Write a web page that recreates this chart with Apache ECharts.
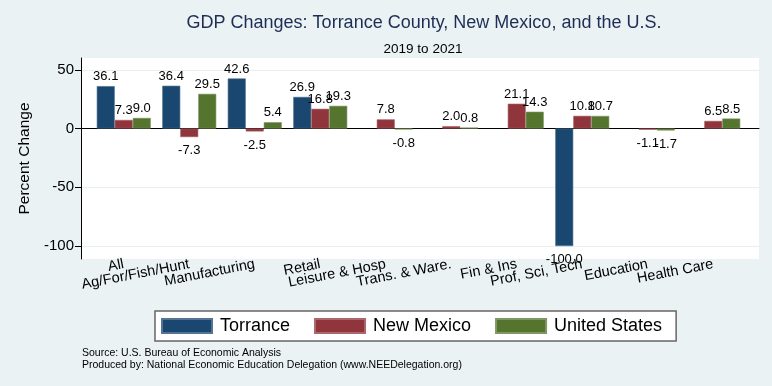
<!DOCTYPE html>
<html>
<head>
<meta charset="utf-8">
<script src="https://cdn.jsdelivr.net/npm/echarts@6/dist/echarts.min.js"></script>
<style>
html,body{margin:0;padding:0;background:#eaf2f3;}
#chart{width:772px;height:386px;}
</style>
</head>
<body>
<div id="chart"></div>
<script>
var categories = ["All", "Ag/For/Fish/Hunt", "Manufacturing", "Retail", "Leisure & Hosp", "Trans. & Ware.", "Fin & Ins", "Prof, Sci, Tech", "Education", "Health Care"];
var torrance = [36.1, 36.4, 42.6, 26.9, null, null, null, -100.0, null, null];
var newMexico = [7.3, -7.3, -2.5, 16.8, 7.8, 2.0, 21.1, 10.8, -1.1, 6.5];
var unitedStates = [9.0, 29.5, 5.4, 19.3, -0.8, 0.8, 14.3, 10.7, -1.7, 8.5];
var yTicks = [-100, -50, 0, 50];
var seriesNames = ["Torrance", "New Mexico", "United States"];
var colors = ["#1a476f", "#90353b", "#55752f"];

var FONT = "Liberation Sans, Arial, Helvetica, sans-serif";
var Y_MIN = -111, Y_MAX = 60;

function toItems(arr) {
  return arr.map(function (v) {
    if (v === null) return '-';
    return { value: v, label: { position: v < 0 ? 'bottom' : 'top', distance: v < 0 ? 7 : 3 } };
  });
}

var chart = echarts.init(document.getElementById('chart'));
var seriesData = [torrance, newMexico, unitedStates];
var series = seriesData.map(function (arr, i) {
  return {
    name: seriesNames[i],
    type: 'bar',
    xAxisIndex: 1,
    yAxisIndex: 1,
    data: toItems(arr),
    barWidth: 18,
    barGap: '0%',
    itemStyle: { color: colors[i], borderColor: echarts.color.lift(colors[i], 0.25), borderWidth: 0.6 },
    label: {
      show: true,
      color: '#000',
      fontFamily: FONT,
      fontSize: 13,
      formatter: function (p) { return Number(p.value).toFixed(1); }
    }
  };
});

chart.setOption({
  animation: false,
  backgroundColor: '#eaf2f3',
  title: [{
    text: 'GDP Changes: Torrance County, New Mexico, and the U.S.',
    left: 419, top: 9, textAlign: 'center',
    textStyle: { fontFamily: FONT, fontSize: 18, fontWeight: 'normal', color: '#1e2d55' }
  }, {
    text: '2019 to 2021',
    left: 418, top: 37, textAlign: 'center',
    textStyle: { fontFamily: FONT, fontSize: 13.5, fontWeight: 'normal', color: '#000' }
  }],
  legend: {
    data: seriesNames,
    left: 155, top: 311,
    width: 530,
    itemWidth: 50, itemHeight: 14,
    itemGap: 24,
    padding: [6, 14, 6, 6],
    backgroundColor: '#ffffff',
    borderColor: '#666666',
    borderWidth: 1.5,
    icon: 'rect',
    textStyle: { fontFamily: FONT, fontSize: 18, color: '#000', padding: [0, 0, 0, 3] }
  },
  grid: [
    { left: 81, right: 13, top: 58, bottom: 127, show: true, backgroundColor: '#ffffff', borderWidth: 0 },
    { left: 91, right: 26, top: 58, bottom: 127 }
  ],
  xAxis: [{
    gridIndex: 0, type: 'category', data: categories,
    axisLine: { show: true, lineStyle: { color: '#000', width: 1 } },
    axisTick: { show: false }, axisLabel: { show: false }, splitLine: { show: false }
  }, {
    gridIndex: 1, type: 'category', data: categories,
    axisLine: { show: false }, axisTick: { show: false },
    axisLabel: {
      interval: 0, rotate: 11, margin: 5,
      fontFamily: FONT, fontSize: 14.5, color: '#000'
    }
  }],
  yAxis: [{
    gridIndex: 0, type: 'value', min: Y_MIN, max: Y_MAX,
    name: 'Percent Change', nameLocation: 'middle', nameGap: 48,
    nameTextStyle: { fontFamily: FONT, fontSize: 15.5, color: '#000' },
    axisLine: { show: true, lineStyle: { color: '#000', width: 1 } },
    axisTick: { show: true, length: 6, inside: false, customValues: yTicks, lineStyle: { color: '#000' } },
    axisLabel: { fontFamily: FONT, fontSize: 15, color: '#000', margin: 7, customValues: yTicks },
    splitLine: { show: true, lineStyle: { color: '#e6eff1', width: 1 } }
  }, {
    gridIndex: 1, type: 'value', min: Y_MIN, max: Y_MAX, show: false,
    splitLine: { show: false }
  }],
  graphic: [{
    type: 'text', left: 82, top: 348,
    style: { text: 'Source: U.S. Bureau of Economic Analysis', font: '10.5px ' + FONT, fill: '#000' }
  }, {
    type: 'text', left: 82, top: 360,
    style: { text: 'Produced by: National Economic Education Delegation (www.NEEDelegation.org)', font: '10.5px ' + FONT, fill: '#000' }
  }],
  series: series
});
</script>
</body>
</html>
